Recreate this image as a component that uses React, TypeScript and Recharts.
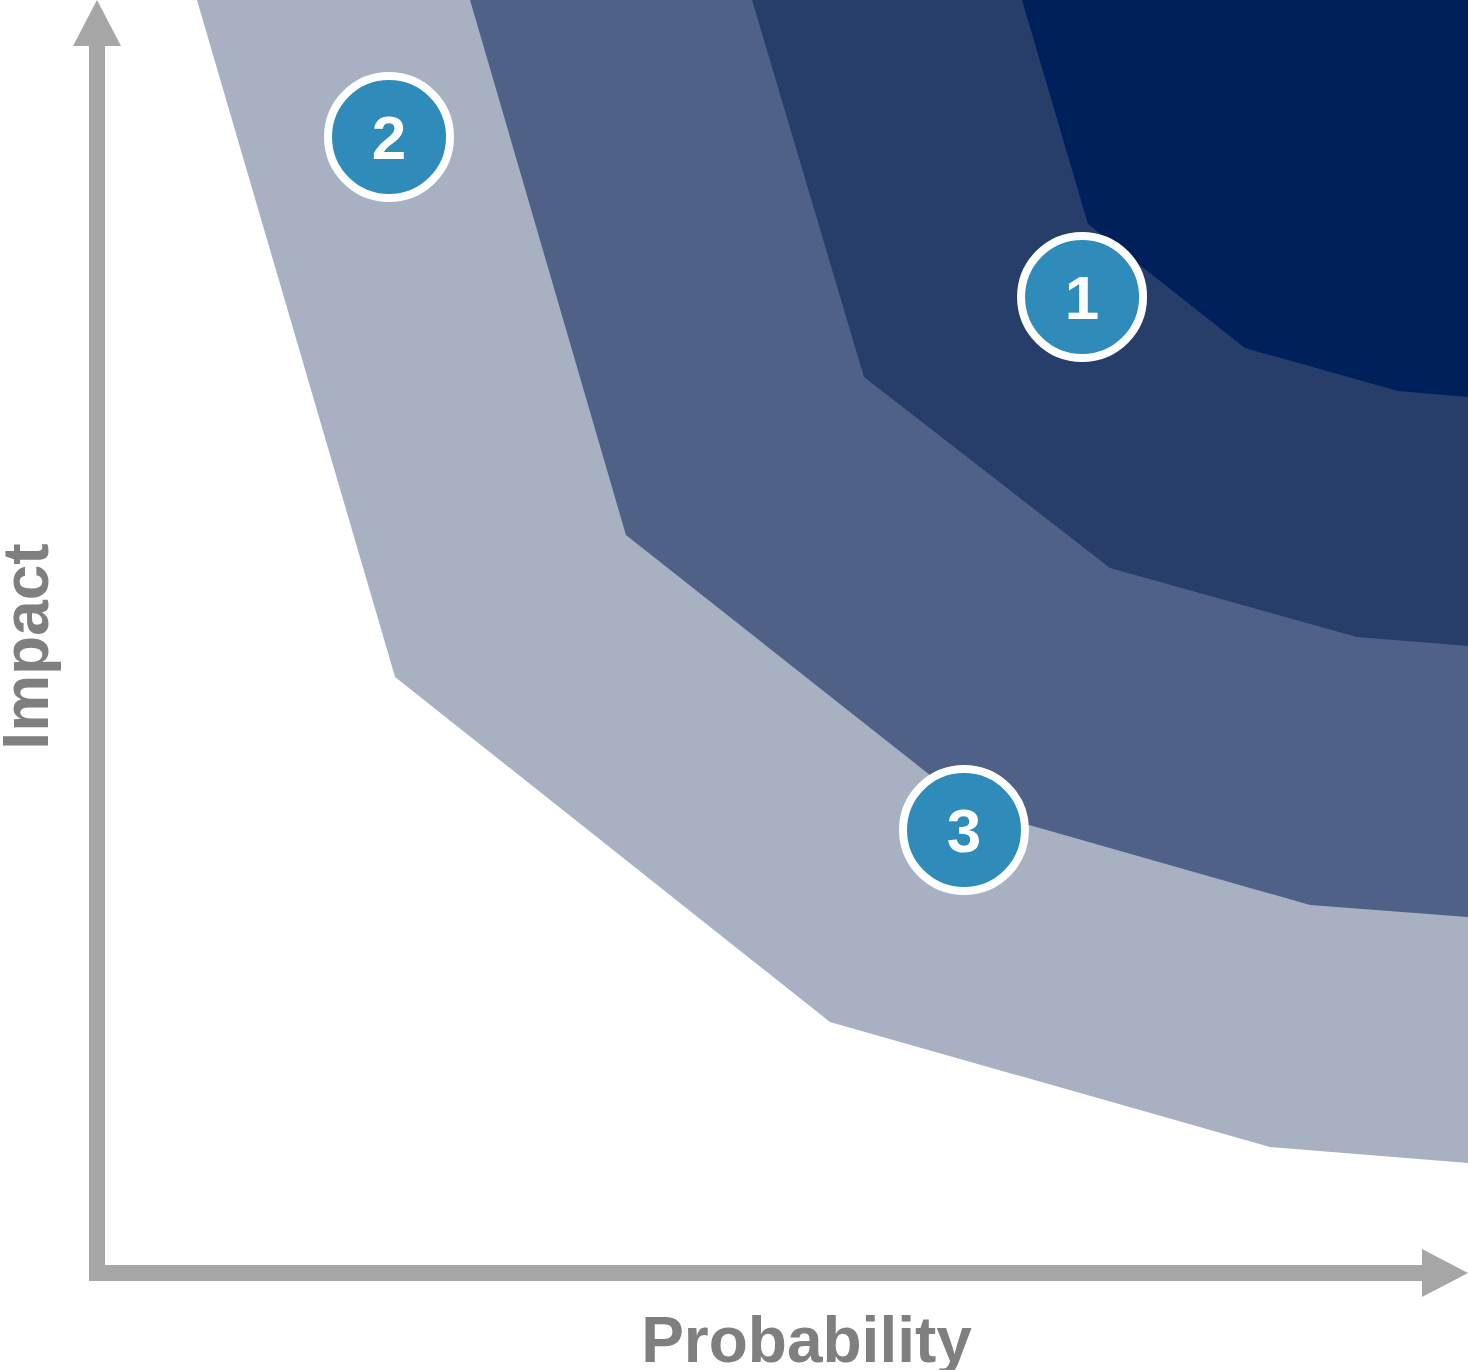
import React from "react";
import { ComposedChart, Area, Scatter, XAxis, YAxis } from "recharts";

// band boundaries, x = probability (0-100), y = impact (0-100)
const lowBoundary = [
  { x: 7.29, y: 100 },
  { x: 21.74, y: 46.82 },
  { x: 53.46, y: 19.72 },
  { x: 85.56, y: 9.9 },
  { x: 100, y: 8.64 },
];

const mediumBoundary = [
  { x: 27.21, y: 100 },
  { x: 38.58, y: 57.97 },
  { x: 63.89, y: 36.45 },
  { x: 88.48, y: 28.91 },
  { x: 100, y: 27.97 },
];

const highBoundary = [
  { x: 47.78, y: 100 },
  { x: 55.94, y: 70.38 },
  { x: 73.89, y: 55.38 },
  { x: 91.9, y: 49.96 },
  { x: 100, y: 49.25 },
];

const criticalBoundary = [
  { x: 67.47, y: 100 },
  { x: 72.28, y: 82.4 },
  { x: 83.73, y: 72.66 },
  { x: 94.89, y: 69.29 },
  { x: 100, y: 68.81 },
];

const markers = [
  { x: 71.85, y: 76.67, label: "1" },
  { x: 21.3, y: 89.24, label: "2" },
  { x: 63.24, y: 34.8, label: "3" },
];

const axisLabels = { x: "Probability", y: "Impact" };

const FONT = '"Liberation Sans", Arial, sans-serif';
const AXIS_GRAY = "#A6A6A6";
const LABEL_GRAY = "#7F7F7F";

const MarkerShape = (props: any) => {
  const { cx, cy, payload } = props;
  return (
    <g>
      <circle cx={cx} cy={cy} r={61} fill="#2E8BBA" stroke="#FFFFFF" strokeWidth={8} />
      <text
        x={cx}
        y={cy + 22}
        textAnchor="middle"
        fill="#FFFFFF"
        fontFamily={FONT}
        fontWeight="bold"
        fontSize={62}
      >
        {payload.label}
      </text>
    </g>
  );
};

const XLabel = ({ viewBox }: any) => (
  <text
    x={viewBox.x + viewBox.width / 2 + 24}
    y={1362}
    textAnchor="middle"
    fill={LABEL_GRAY}
    fontFamily={FONT}
    fontWeight="bold"
    fontSize={64}
  >
    {axisLabels.x}
  </text>
);

const YLabel = ({ viewBox }: any) => {
  const cx = 48;
  const cy = viewBox.y + viewBox.height / 2 + 10;
  return (
    <text
      x={cx}
      y={cy}
      transform={`rotate(-90 ${cx} ${cy})`}
      textAnchor="middle"
      fill={LABEL_GRAY}
      fontFamily={FONT}
      fontWeight="bold"
      fontSize={64}
    >
      {axisLabels.y}
    </text>
  );
};

export default function App() {
  return (
    <div style={{ position: "absolute", left: 0, top: 0, background: "#fff" }}>
      <ComposedChart
        width={1468}
        height={1370}
        margin={{ top: 0, right: 0, bottom: 0, left: 0 }}
      >
        <defs>
          <marker
            id="axisArrow"
            viewBox="0 0 46 48"
            refX={46}
            refY={24}
            markerWidth={46}
            markerHeight={48}
            markerUnits="userSpaceOnUse"
            orient="auto-start-reverse"
          >
            <path d="M0,0 L46,24 L0,48 Z" fill={AXIS_GRAY} />
          </marker>
        </defs>
        <XAxis
          type="number"
          dataKey="x"
          domain={[0, 100]}
          height={97}
          tick={false}
          tickLine={false}
          axisLine={{
            stroke: AXIS_GRAY,
            strokeWidth: 16,
            strokeLinecap: "square",
            strokeDasharray: "1340 200",
            markerEnd: "url(#axisArrow)",
          }}
          label={<XLabel />}
        />
        <YAxis
          type="number"
          domain={[0, 100]}
          width={97}
          tick={false}
          tickLine={false}
          axisLine={{
            stroke: AXIS_GRAY,
            strokeWidth: 16,
            strokeDasharray: "0 30 1300",
            markerStart: "url(#axisArrow)",
          }}
          label={<YLabel />}
        />
        <Area
          data={lowBoundary}
          dataKey="y"
          type="linear"
          baseValue="dataMax"
          fill="#A7B1C2"
          fillOpacity={1}
          stroke="none"
          isAnimationActive={false}
        />
        <Area
          data={mediumBoundary}
          dataKey="y"
          type="linear"
          baseValue="dataMax"
          fill="#4F6187"
          fillOpacity={1}
          stroke="none"
          isAnimationActive={false}
        />
        <Area
          data={highBoundary}
          dataKey="y"
          type="linear"
          baseValue="dataMax"
          fill="#273E6A"
          fillOpacity={1}
          stroke="none"
          isAnimationActive={false}
        />
        <Area
          data={criticalBoundary}
          dataKey="y"
          type="linear"
          baseValue="dataMax"
          fill="#00205C"
          fillOpacity={1}
          stroke="none"
          isAnimationActive={false}
        />
        <Scatter
          data={markers}
          dataKey="y"
          shape={<MarkerShape />}
          isAnimationActive={false}
        />
      </ComposedChart>
    </div>
  );
}
